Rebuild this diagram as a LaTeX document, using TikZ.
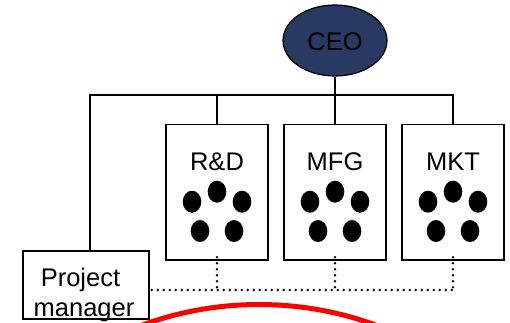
\documentclass[tikz,border=0pt]{standalone}
\usepackage{fontspec}
\setmainfont{Liberation Sans}
\usetikzlibrary{shapes.geometric}
\definecolor{ceoblue}{RGB}{40,58,97}
\begin{document}
\begin{tikzpicture}[x=1pt,y=-1pt,
  every node/.style={font=\fontsize{25.5}{30}\selectfont},
  solidline/.style={line width=1.6pt},
  dotline/.style={line width=2.8pt, line cap=round, dash pattern=on 0pt off 6pt},
  deptbox/.style={draw, line width=1.6pt, minimum width=102pt, minimum height=135.5pt, inner sep=0pt},
  member/.style={fill=black}
]
\useasboundingbox (0,0) rectangle (510,322);

% CEO
\node[ellipse, draw, line width=1.2pt, fill=ceoblue, minimum width=104pt, minimum height=71pt, inner sep=0pt] (ceo) at (335,40.5) {};
\node[anchor=base] (ceot) at (335,50) {CEO};

% department boxes
\node[deptbox] (rd) at (217,192.25) {};
\node[deptbox] (mfg) at (335,192.25) {};
\node[deptbox] (mkt) at (453,192.25) {};
\node[anchor=base] (rdt) at (217,170) {R\&D};
\node[anchor=base] (mfgt) at (335,170) {MFG};
\node[anchor=base] (mktt) at (453,170) {MKT};

% members
\foreach \c in {217,335,453}{
  \fill[member] (\c,191.7) ellipse [x radius=9.3, y radius=11];
  \fill[member] (\c-25,201.7) ellipse [x radius=9.3, y radius=11];
  \fill[member] (\c+25,201.7) ellipse [x radius=9.3, y radius=11];
  \fill[member] (\c-17,231) ellipse [x radius=9.3, y radius=11];
  \fill[member] (\c+17,231) ellipse [x radius=9.3, y radius=11];
}

% project manager
\node[draw, line width=1.6pt, minimum width=126pt, minimum height=68pt, inner sep=0pt] (pm) at (86,285) {};
\node[anchor=base, align=center, inner sep=0pt] (pmt) at (84,316) {Project\hspace*{7pt}\\manager};

% solid connectors
\coordinate (bus) at (0,95);
\coordinate (pmtop) at (90,251);
\draw[solidline] (ceo.south) -- (mfg.north);
\draw[solidline] (pmtop) |- (mkt.north |- bus) -- (mkt.north);
\draw[solidline] (rd.north |- bus) -- (rd.north);

% dotted connectors
\coordinate (dl) at (0,290);
\draw[dotline] ([yshift=3.5pt]rd.south) -- (rd.south |- dl);
\draw[dotline] ([yshift=3.5pt]mfg.south) -- (mfg.south |- dl);
\draw[dotline] ([yshift=3.5pt]mkt.south) -- (mkt.south |- dl);
\draw[dotline] ([xshift=2pt]pm.east |- dl) -- (mkt.south |- dl);

% red arc
\begin{scope}
\clip (0,0) rectangle (510,322);
\draw[red, line width=5pt] (259,644.5) circle [radius=340];
\end{scope}
\end{tikzpicture}
\end{document}
